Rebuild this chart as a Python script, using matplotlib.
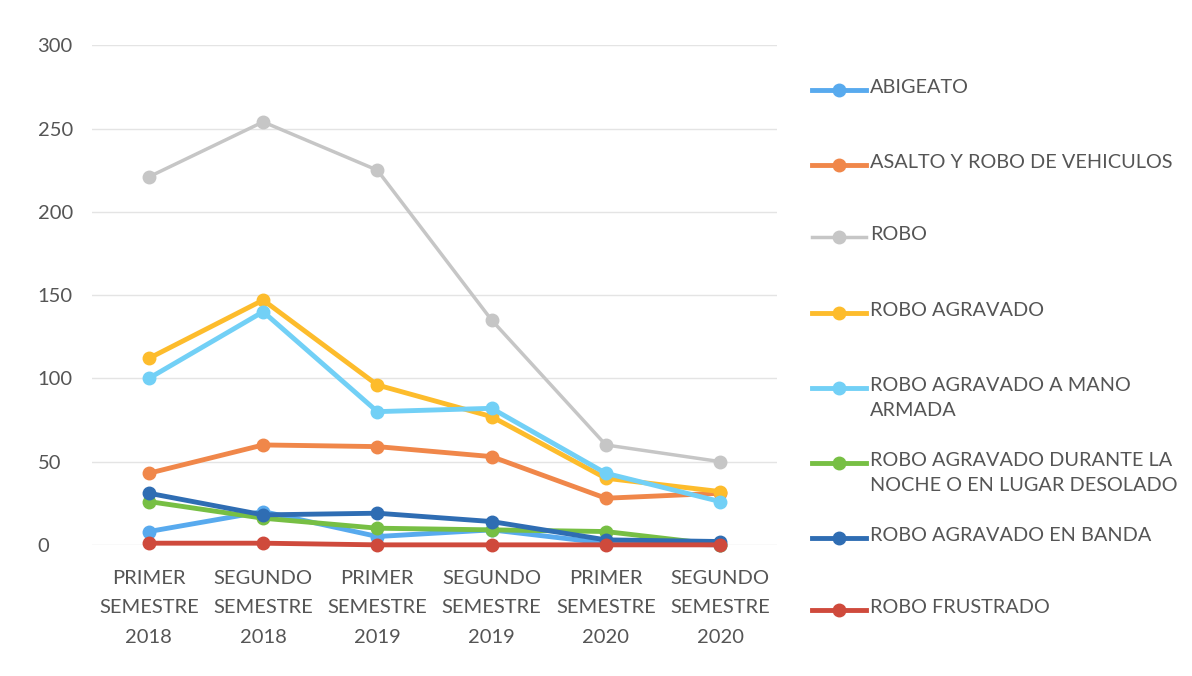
import matplotlib.pyplot as plt
from matplotlib.lines import Line2D

plt.rcParams['font.family'] = ['Lato', 'DejaVu Sans']

periodos = ["PRIMER\nSEMESTRE\n2018", "SEGUNDO\nSEMESTRE\n2018",
            "PRIMER\nSEMESTRE\n2019", "SEGUNDO\nSEMESTRE\n2019",
            "PRIMER\nSEMESTRE\n2020", "SEGUNDO\nSEMESTRE\n2020"]

abigeato = [8, 20, 5, 9, 1, 0]
asalto_vehiculos = [43, 60, 59, 53, 28, 31]
robo = [221, 254, 225, 135, 60, 50]
robo_agravado = [112, 147, 96, 77, 40, 32]
robo_mano_armada = [100, 140, 80, 82, 43, 26]
robo_noche = [26, 16, 10, 9, 8, 0]
robo_banda = [31, 18, 19, 14, 3, 2]
robo_frustrado = [1, 1, 0, 0, 0, 0]

series = [
    ("ABIGEATO", abigeato, "#58aaee", 3.5),
    ("ASALTO Y ROBO DE VEHICULOS", asalto_vehiculos, "#f0874a", 3.5),
    ("ROBO", robo, "#c6c6c6", 2.5),
    ("ROBO AGRAVADO", robo_agravado, "#fdbc2c", 3.5),
    ("ROBO AGRAVADO A MANO\nARMADA", robo_mano_armada, "#72d0f6", 3.5),
    ("ROBO AGRAVADO DURANTE LA\nNOCHE O EN LUGAR DESOLADO", robo_noche, "#77bf44", 3.5),
    ("ROBO AGRAVADO EN BANDA", robo_banda, "#2f6db3", 3.5),
    ("ROBO FRUSTRADO", robo_frustrado, "#cf4a3c", 3.5),
]

fig = plt.figure(figsize=(11.92, 6.76), dpi=100)
ax = fig.add_axes([0.077, 0.194, 0.575, 0.739])

x = list(range(len(periodos)))
for i, (nombre, vals, color, lw) in enumerate(series):
    ax.plot(x, vals, color=color, lw=lw, marker="o", markersize=9,
            solid_capstyle="round", zorder=3 + i, clip_on=False)

ax.set_xlim(-0.5, len(periodos) - 0.5)
ax.set_ylim(0, 300)
ax.set_yticks(range(0, 301, 50))
ax.set_xticks(x)
ax.set_xticklabels(periodos, linespacing=1.9)
ax.tick_params(axis="both", length=0, labelsize=14.5, colors="#555555")
ax.tick_params(axis="x", pad=18)
ax.tick_params(axis="y", pad=39)
for lbl in ax.get_yticklabels():
    lbl.set_horizontalalignment("left")
ax.grid(axis="y", color="#e4e4e4", lw=1)
for s in ax.spines.values():
    s.set_visible(False)

# legend drawn by hand so two-line labels keep the marker on the first line
fig_h = 676
leg_y = [90, 165, 237, 313, 388, 463, 538, 610]
for (nombre, vals, color, lw), yp in zip(series, leg_y):
    yf = 1 - yp / fig_h
    fig.add_artist(Line2D([812 / 1192, 866 / 1192], [yf, yf], color=color,
                          lw=lw, transform=fig.transFigure))
    fig.add_artist(Line2D([839 / 1192], [yf], color=color, marker="o",
                          markersize=9, transform=fig.transFigure))
    fig.text(870 / 1192, yf + 11 / fig_h, nombre, fontsize=14.3,
             color="#555555", va="top", ha="left", linespacing=1.55)

fig.savefig("out.png", dpi=100)
